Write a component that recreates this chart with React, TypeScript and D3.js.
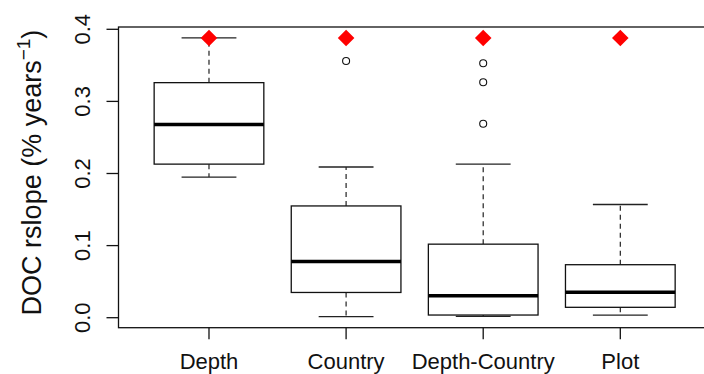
import React, { useEffect, useRef } from "react";
import * as d3 from "d3";

// values
const categories = ["Depth", "Country", "Depth-Country", "Plot"];
const lowerWhisker = [0.195, 0.0014, 0.0019, 0.0037];
const q1 = [0.213, 0.035, 0.0037, 0.0144];
const medians = [0.268, 0.078, 0.0305, 0.0352];
const q3 = [0.326, 0.155, 0.102, 0.0735];
const upperWhisker = [0.388, 0.209, 0.213, 0.157];
const outliers = [[], [0.356], [0.353, 0.3265, 0.269], []];
const redMarkers = [0.388, 0.388, 0.388, 0.388];
const yTicks = [0, 0.1, 0.2, 0.3, 0.4];

const App = () => {
    const svgRef = useRef<SVGSVGElement>(null);

    useEffect(() => {
        const width = 704,
              height = 374;

        const svg = d3.select(svgRef.current)
            .attr("width", width)
            .attr("height", height);
        svg.selectAll("*").remove();

        // R style boxplot: xlim 0.5..n+0.5 with 4% extension
        const x = d3.scaleLinear()
            .domain([0.34, 4.66])
            .range([118.5, 710.8]);

        const y = d3.scaleLinear()
            .domain([0, 0.4])
            .range([317.7, 29.3]);

        const plotTop = 27, plotBottom = 327.7;
        const font = "Liberation Sans, Arial, sans-serif";

        const data = categories.map((c, i) => ({
            name: c,
            pos: i + 1,
            lo: lowerWhisker[i],
            q1: q1[i],
            med: medians[i],
            q3: q3[i],
            hi: upperWhisker[i],
            out: outliers[i],
            marker: redMarkers[i]
        }));

        // frame
        svg.append("rect")
            .attr("x", x(0.34))
            .attr("y", plotTop)
            .attr("width", x(4.66) - x(0.34))
            .attr("height", plotBottom - plotTop)
            .attr("fill", "none")
            .attr("stroke", "#111")
            .attr("stroke-width", 1.3);

        // y axis
        const yAxis = svg.append("g");
        yAxis.selectAll("line")
            .data(yTicks)
            .join("line")
            .attr("x1", x(0.34) - 12)
            .attr("x2", x(0.34))
            .attr("y1", d => y(d))
            .attr("y2", d => y(d))
            .attr("stroke", "#111")
            .attr("stroke-width", 1.3);
        yAxis.selectAll("text")
            .data(yTicks)
            .join("text")
            .attr("transform", d => `translate(90, ${y(d)}) rotate(-90)`)
            .attr("text-anchor", "middle")
            .attr("font-family", font)
            .attr("font-size", 22)
            .attr("fill", "#111")
            .text(d => d3.format(".1f")(d));

        // y title
        const title = svg.append("text")
            .attr("transform", "translate(40.5, 172.5) rotate(-90)")
            .attr("text-anchor", "middle")
            .attr("font-family", font)
            .attr("font-size", 27)
            .attr("fill", "#111");
        title.append("tspan").text("DOC rslope (% years");
        title.append("tspan").attr("dy", -11).attr("font-size", 19).text("\u22121");
        title.append("tspan").attr("dy", 11).text(")");

        // x axis ticks and labels
        const xAxis = svg.append("g");
        xAxis.selectAll("line")
            .data(data)
            .join("line")
            .attr("x1", d => x(d.pos))
            .attr("x2", d => x(d.pos))
            .attr("y1", plotBottom)
            .attr("y2", plotBottom + 11.5)
            .attr("stroke", "#111")
            .attr("stroke-width", 1.3);
        xAxis.selectAll("text")
            .data(data)
            .join("text")
            .attr("x", d => x(d.pos))
            .attr("y", 369)
            .attr("text-anchor", "middle")
            .attr("font-family", font)
            .attr("font-size", 22)
            .attr("fill", "#111")
            .text(d => d.name);

        // boxes
        const boxes = svg.append("g")
            .selectAll("g")
            .data(data)
            .join("g");

        // dashed whiskers
        boxes.append("line")
            .attr("x1", d => x(d.pos)).attr("x2", d => x(d.pos))
            .attr("y1", d => y(d.q3)).attr("y2", d => y(d.hi))
            .attr("stroke", "#222").attr("stroke-width", 1.2)
            .attr("stroke-dasharray", "5,4");
        boxes.append("line")
            .attr("x1", d => x(d.pos)).attr("x2", d => x(d.pos))
            .attr("y1", d => y(d.q1)).attr("y2", d => y(d.lo))
            .attr("stroke", "#222").attr("stroke-width", 1.2)
            .attr("stroke-dasharray", "5,4");

        // staples
        boxes.selectAll("line.staple")
            .data(d => [{ pos: d.pos, v: d.hi }, { pos: d.pos, v: d.lo }])
            .join("line")
            .attr("class", "staple")
            .attr("x1", d => x(d.pos - 0.2)).attr("x2", d => x(d.pos + 0.2))
            .attr("y1", d => y(d.v)).attr("y2", d => y(d.v))
            .attr("stroke", "#222").attr("stroke-width", 1.3);

        boxes.append("rect")
            .attr("x", d => x(d.pos - 0.4))
            .attr("width", d => x(d.pos + 0.4) - x(d.pos - 0.4))
            .attr("y", d => y(d.q3))
            .attr("height", d => y(d.q1) - y(d.q3))
            .attr("fill", "white")
            .attr("stroke", "#111")
            .attr("stroke-width", 1.3);

        // median
        boxes.append("line")
            .attr("x1", d => x(d.pos - 0.4)).attr("x2", d => x(d.pos + 0.4))
            .attr("y1", d => y(d.med)).attr("y2", d => y(d.med))
            .attr("stroke", "#000").attr("stroke-width", 3.5);

        // outliers
        boxes.selectAll("circle")
            .data(d => d.out.map(v => ({ pos: d.pos, v })))
            .join("circle")
            .attr("cx", d => x(d.pos))
            .attr("cy", d => y(d.v))
            .attr("r", 3.5)
            .attr("fill", "white")
            .attr("stroke", "#111")
            .attr("stroke-width", 1.1);

        // red diamonds
        boxes.append("path")
            .attr("d", d3.symbol(d3.symbolDiamond2, 175))
            .attr("transform", d => `translate(${x(d.pos)}, ${y(d.marker)})`)
            .attr("fill", "#ff0000");
    }, []);

    return <svg ref={svgRef} style={{ position: "absolute", left: 0, top: 0, background: "white" }}></svg>;
};

export default App;
